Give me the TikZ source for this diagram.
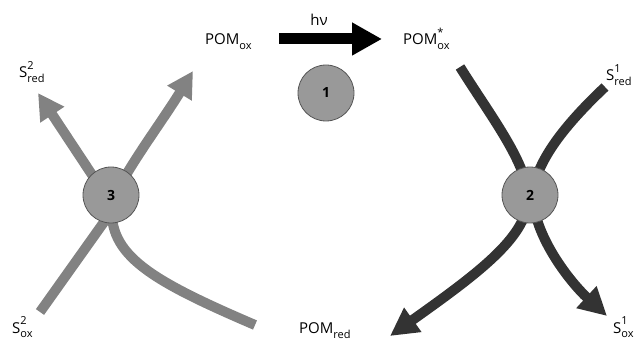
\documentclass[tikz,border=0pt]{standalone}
\usepackage{fontspec}
\setmainfont{Open Sans}
\usetikzlibrary{arrows.meta}
\definecolor{lgray}{HTML}{828282}
\definecolor{dgray}{HTML}{333333}
\definecolor{cfill}{HTML}{999999}
\definecolor{cborder}{HTML}{555555}
\newcommand\chemlbl[3]{#1\rlap{\raisebox{1.1ex}{\fontsize{11}{11}\selectfont #2}}\raisebox{-0.6ex}{\fontsize{11}{11}\selectfont #3}}
\tikzset{
  lbl/.style={font=\fontsize{15}{15}\selectfont, anchor=base west, inner sep=0pt},
  enz/.style={circle, draw=cborder, line width=0.8pt, fill=cfill, minimum size=56pt, inner sep=0pt, font=\fontsize{14}{14}\selectfont\bfseries},
  graypath/.style={draw=lgray, line width=10pt, line join=round},
  darkpath/.style={draw=dgray, line width=10pt, line join=round},
  ghead/.style={-{Triangle[length=26pt,width=27pt]}},
  dhead/.style={-{Triangle[length=28pt,width=28pt]}}
}
\begin{document}
\begin{tikzpicture}[x=1pt,y=-1pt]
\useasboundingbox (0,0) rectangle (638,342);
% coordinates
\coordinate (s2ox) at (40,312);
\coordinate (s2red) at (38,93);
\coordinate (pomredL) at (255,325);
\coordinate (pomoxT) at (193,71);
\coordinate (pomstar) at (460,67);
\coordinate (pomredT) at (390,336);
\coordinate (s1red) at (605,87);
\coordinate (s1ox) at (607,316);
\coordinate (c3) at (111,195);
\coordinate (c2) at (530,195);
% left gray paths
\draw[graypath, ghead] (s2ox) -- (114,208) -- (s2red);
\draw[graypath, ghead] (pomredL) .. controls (150,280) and (108,255) .. (112,205) .. controls (118,180) and (160,125) .. (pomoxT);
% right dark paths
\draw[darkpath, dhead] (pomstar) .. controls (490,115) and (525,160) .. (528,195) .. controls (530,235) and (480,272) .. (pomredT);
\draw[darkpath, dhead] (s1red) .. controls (570,120) and (535,160) .. (533,195) .. controls (533,235) and (570,282) .. (s1ox);
% light arrow
\coordinate (hvA) at (279,39);
\coordinate (hvB) at (382,39);
\draw[line width=11pt, draw=black, -{Triangle[length=30pt,width=31pt]}] (hvA) -- (hvB);
% enzyme circles
\node[enz] (e1) at (326,93) {1};
\node[enz] (e3) at (c3) {3};
\node[enz] (e2) at (c2) {2};
% labels
\node[lbl, anchor=base] (hv) at (319,26) {hν};
\node[lbl] (pomox) at (205,45) {\chemlbl{POM}{}{ox}};
\node[lbl] (pomoxs) at (403,45) {\chemlbl{POM}{*}{ox}};
\node[lbl] (lS2red) at (19,78) {\chemlbl{S}{2}{red}};
\node[lbl] (lS2ox) at (12,333) {\chemlbl{S}{2}{ox}};
\node[lbl] (lpomred) at (299,334) {\chemlbl{POM}{}{red}};
\node[lbl] (lS1red) at (606,81) {\chemlbl{S}{1}{red}};
\node[lbl] (lS1ox) at (613,333) {\chemlbl{S}{1}{ox}};
\end{tikzpicture}
\end{document}
